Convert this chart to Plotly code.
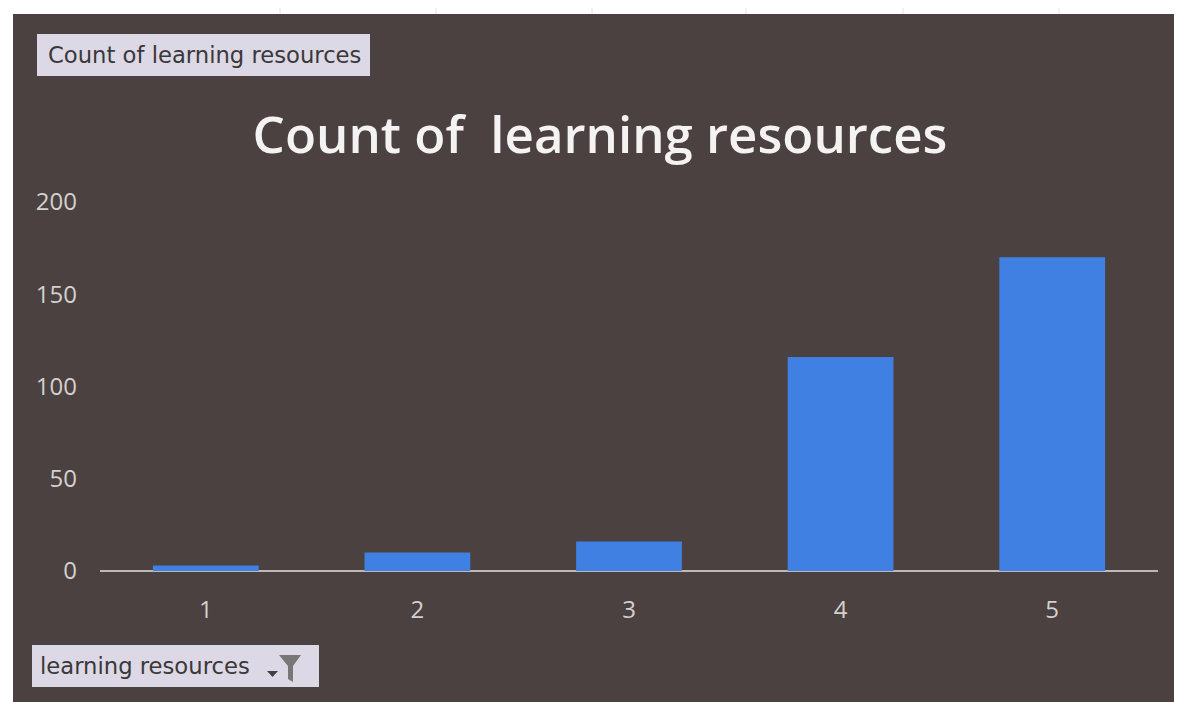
import plotly.graph_objects as go

# data
categories = ["1", "2", "3", "4", "5"]
counts = [3, 10, 16, 116, 170]
y_ticks = [0, 50, 100, 150, 200]

# the page body adds an 8px margin, so the figure is drawn 8px smaller
OFF = 8
W, H = 1182 - OFF, 702 - OFF
L, R, T, B = 100 - OFF, 24, 202 - OFF, 131
PW, PH = W - L - R, H - T - B

BG = "#4a4140"
BAR = "#3f80e2"


def px_x(px):
    # px is a position in the reference picture
    return (px - OFF - L) / PW


def px_y(py):
    return (H - B - (py - OFF)) / PH


fig = go.Figure()
fig.add_trace(go.Bar(x=categories, y=counts, marker_color=BAR, marker_line_width=0))

shapes = []
# white spreadsheet margin on top and left
shapes.append(dict(type="rect", xref="paper", yref="paper", x0=px_x(0), x1=px_x(1182),
                   y0=px_y(14), y1=px_y(0), fillcolor="white", line_width=0, layer="above"))
shapes.append(dict(type="rect", xref="paper", yref="paper", x0=px_x(0), x1=px_x(13),
                   y0=px_y(702), y1=px_y(0), fillcolor="white", line_width=0, layer="above"))
for gx in [280, 436, 592, 746, 903, 1059]:
    shapes.append(dict(type="line", xref="paper", yref="paper", x0=px_x(gx), x1=px_x(gx),
                       y0=px_y(14), y1=px_y(0), line=dict(color="#e4e4e4", width=1), layer="above"))

# field buttons
shapes.append(dict(type="rect", xref="paper", yref="paper", x0=px_x(37), x1=px_x(370),
                   y0=px_y(76), y1=px_y(34), fillcolor="#dcd8e6", line_width=0))
shapes.append(dict(type="rect", xref="paper", yref="paper", x0=px_x(32), x1=px_x(319),
                   y0=px_y(687), y1=px_y(645), fillcolor="#dcd8e6", line_width=0))
# funnel icon and drop arrow
funnel = [(279, 655), (301, 655), (293, 666), (293, 682), (288, 679), (288, 666)]
path = "M " + " L ".join(f"{px_x(a):.5f},{px_y(b):.5f}" for a, b in funnel) + " Z"
shapes.append(dict(type="path", xref="paper", yref="paper", path=path,
                   fillcolor="#7a7676", line_width=0))
arrow = [(267, 671), (278, 671), (272.5, 677)]
path = "M " + " L ".join(f"{px_x(a):.5f},{px_y(b):.5f}" for a, b in arrow) + " Z"
shapes.append(dict(type="path", xref="paper", yref="paper", path=path,
                   fillcolor="#444040", line_width=0))

annotations = [
    dict(text="Count of learning resources", xref="paper", yref="paper",
         x=px_x(46), y=px_y(55), xanchor="left", yanchor="middle", showarrow=False,
         font=dict(family="DejaVu Sans", size=22.7, color="#3a3838")),
    dict(text="learning resources", xref="paper", yref="paper",
         x=px_x(38), y=px_y(666), xanchor="left", yanchor="middle", showarrow=False,
         font=dict(family="DejaVu Sans", size=22.7, color="#3a3838")),
]

fig.update_layout(
    width=W, height=H,
    margin=dict(l=L, r=R, t=T, b=B),
    paper_bgcolor=BG, plot_bgcolor=BG,
    showlegend=False,
    bargap=0.5,
    title=dict(text="Count of  learning resources", x=px_x(600), xref="paper", xanchor="center",
               y=1 - (135 - OFF) / H, yanchor="middle",
               font=dict(family="Open Sans", size=51, weight=600, color="#f4f2f2")),
    xaxis=dict(type="category", showgrid=False, zeroline=False, showline=False,
               tickfont=dict(family="Open Sans", size=24, color="#d4d0d0"),
               ticks="", ticklabelstandoff=22),
    yaxis=dict(range=[0, 200], tickvals=y_ticks, showgrid=False, zeroline=True,
               zerolinecolor="#bdb9b9", zerolinewidth=2, showline=False,
               tickfont=dict(family="Open Sans", size=24, color="#d4d0d0"),
               ticks="", ticklabelstandoff=22),
    shapes=shapes,
    annotations=annotations,
)

fig.write_html("out.html")
